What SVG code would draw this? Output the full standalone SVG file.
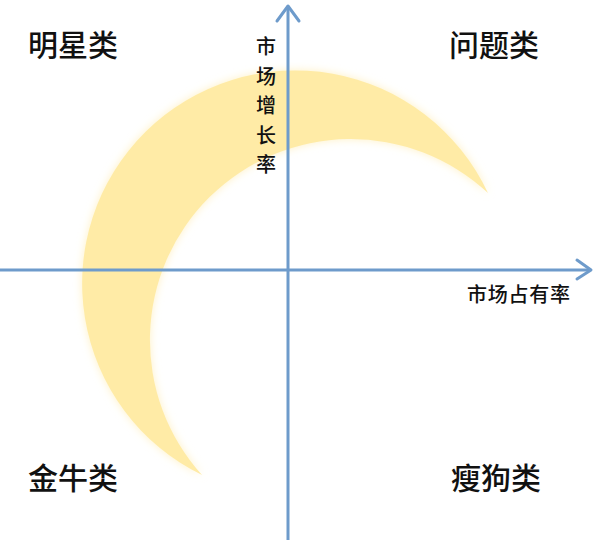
<svg xmlns="http://www.w3.org/2000/svg" width="600" height="540" viewBox="0 0 600 540">
  <style>
    .quad { font-family: "Noto Sans CJK SC", "Noto Sans", sans-serif; font-size: 30px; font-weight: 500; fill: #111; }
    .axislabel { font-family: "Noto Sans CJK SC", "Noto Sans", sans-serif; font-size: 20px; font-weight: 500; fill: #111; }
    .axis { stroke: #6E9BCB; stroke-width: 3; fill: none; }
    .head { stroke: #6E9BCB; stroke-width: 3; fill: none; stroke-linecap: round; stroke-linejoin: round; }
  </style>
  <defs>
    <filter id="glow" x="-20%" y="-20%" width="140%" height="140%">
      <feGaussianBlur stdDeviation="4"/>
    </filter>
  </defs>
  <rect width="600" height="540" fill="#ffffff"/>
  <g id="crescent">
    <path d="M 488 193 A 213 213 0 1 0 202 475 A 201 201 0 0 1 488 193 Z" fill="#FFF1C4" filter="url(#glow)"/>
    <path d="M 488 193 A 213 213 0 1 0 202 475 A 201 201 0 0 1 488 193 Z" fill="#FFEBA6"/>
  </g>
  <g id="connectors">
    <line class="axis" x1="288" y1="540" x2="288" y2="7"/>
    <polyline class="head" points="277,21 288,6 299,21"/>
    <line class="axis" x1="0" y1="270" x2="590" y2="270"/>
    <polyline class="head" points="577,260 591,270 577,279"/>
  </g>
  <g id="star"><text class="quad" x="28" y="56">明星类</text></g>
  <g id="question"><text class="quad" x="449" y="56">问题类</text></g>
  <g id="cow"><text class="quad" x="28" y="489">金牛类</text></g>
  <g id="dog"><text class="quad" x="451" y="489">瘦狗类</text></g>
  <g id="ylabel">
    <text class="axislabel" x="266" y="54" text-anchor="middle">市</text>
    <text class="axislabel" x="266" y="84" text-anchor="middle">场</text>
    <text class="axislabel" x="266" y="113" text-anchor="middle">增</text>
    <text class="axislabel" x="266" y="143" text-anchor="middle">长</text>
    <text class="axislabel" x="266" y="172" text-anchor="middle">率</text>
  </g>
  <g id="xlabel"><text class="axislabel" x="467" y="302" textLength="103" lengthAdjust="spacing">市场占有率</text></g>
</svg>
